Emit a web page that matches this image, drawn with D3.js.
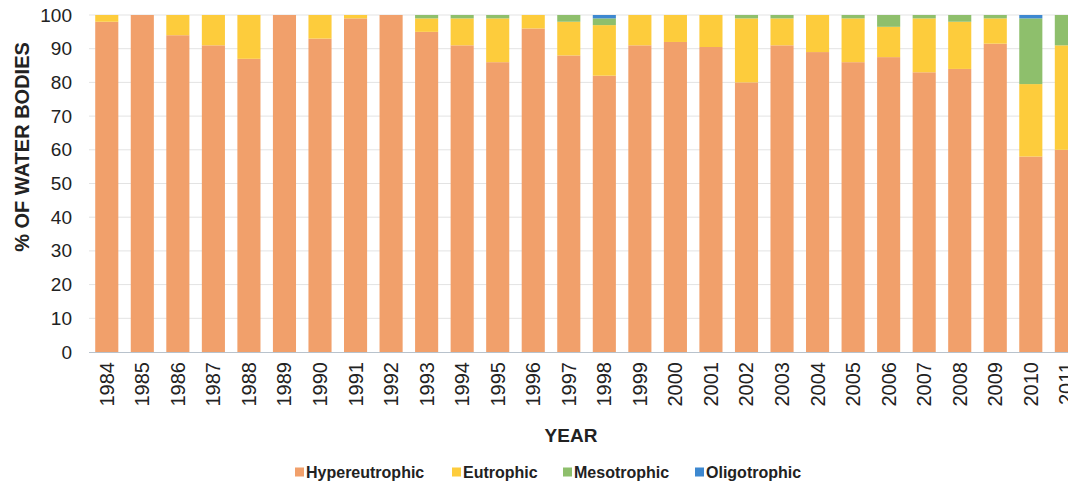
<!DOCTYPE html>
<html><head><meta charset="utf-8">
<script src="https://cdn.jsdelivr.net/npm/d3@7"></script>
<style>body{margin:0;background:#fff;overflow:hidden}svg{display:block;font-family:"Liberation Sans",Arial,sans-serif}</style>
</head><body>
<svg id="c" width="1068" height="483"></svg>
<script>
const years = ["1984","1985","1986","1987","1988","1989","1990","1991","1992","1993","1994","1995","1996","1997","1998","1999","2000","2001","2002","2003","2004","2005","2006","2007","2008","2009","2010","2011"];
const hypereutrophic = [98,100,94,91,87,100,93,99,100,95,91,86,96,88,82,91,92,90.5,80,91,89,86,87.5,83,84,91.5,58,60];
const eutrophic      = [2,0,6,9,13,0,7,1,0,4,8,13,4,10,15,9,8,9.5,19,8,11,13,9,16,14,7.5,21.5,31];
const mesotrophic    = [0,0,0,0,0,0,0,0,0,1,1,1,0,2,2,0,0,0,1,1,0,1,3.5,1,2,1,19.5,9];
const oligotrophic   = [0,0,0,0,0,0,0,0,0,0,0,0,0,0,1,0,0,0,0,0,0,0,0,0,0,0,1,0];
const seriesNames = ["Hypereutrophic","Eutrophic","Mesotrophic","Oligotrophic"];
const seriesColors = ["#F1A06B","#FDCC3C","#8EBF6C","#3D88D0"];
const yTicks = [0,10,20,30,40,50,60,70,80,90,100];

const svg = d3.select("#c");
const m = {left:89, top:15, bottom:352};
const x = d3.scaleBand().domain(years).range([m.left, m.left + 28*35.54]).paddingInner(0.35).paddingOuter(0.175);
const y = d3.scaleLinear().domain([0,100]).range([m.bottom, m.top]);

// gridlines
svg.append("g").selectAll("line").data(yTicks.filter(d=>d>0)).join("line")
  .attr("x1", m.left).attr("x2", 1068).attr("y1", d=>y(d)).attr("y2", d=>y(d))
  .attr("stroke","#e3e3e3").attr("stroke-width",1);

const rows = years.map((yr,i)=>({year:yr, Hypereutrophic:hypereutrophic[i], Eutrophic:eutrophic[i], Mesotrophic:mesotrophic[i], Oligotrophic:oligotrophic[i]}));
const stacked = d3.stack().keys(seriesNames)(rows);
svg.append("g").selectAll("g").data(stacked).join("g")
  .attr("fill",(d,i)=>seriesColors[i])
  .selectAll("rect").data(d=>d).join("rect")
  .attr("x", d=>x(d.data.year)).attr("width", x.bandwidth())
  .attr("y", d=>y(d[1])).attr("height", d=>Math.max(0, y(d[0])-y(d[1])));

// x axis line
svg.append("line").attr("x1",m.left).attr("x2",1068).attr("y1",m.bottom+0.5).attr("y2",m.bottom+0.5).attr("stroke","#b8c2cc");

// y tick labels
const yAxis = svg.append("g").attr("transform",`translate(${m.left},0)`)
  .call(d3.axisLeft(y).tickValues(yTicks).tickSize(0).tickPadding(17));
yAxis.select(".domain").remove();
yAxis.selectAll("text").attr("font-size",19).attr("fill","#222").attr("font-family","Liberation Sans, Arial, sans-serif");

// x tick labels
const xAxis = svg.append("g").attr("transform",`translate(0,${m.bottom})`)
  .call(d3.axisBottom(x).tickSize(0));
xAxis.select(".domain").remove();
xAxis.selectAll("text").attr("font-size",20).attr("fill","#222")
  .attr("font-family","Liberation Sans, Arial, sans-serif")
  .attr("text-anchor","end").attr("dy","0.35em")
  .attr("transform","translate(0,10) rotate(-90)").attr("x",0).attr("y",0);

// titles
svg.append("text").attr("x",571).attr("y",442).attr("text-anchor","middle")
  .attr("font-weight","bold").attr("font-size",19).attr("fill","#222").text("YEAR");
svg.append("text").attr("transform","translate(29,147) rotate(-90)").attr("text-anchor","middle")
  .attr("font-weight","bold").attr("font-size",20).attr("fill","#222").text("% OF WATER BODIES");

// legend
const legX = [295, 452, 563, 695];
const lg = svg.append("g").selectAll("g").data(seriesNames).join("g")
  .attr("transform",(d,i)=>`translate(${legX[i]},472)`);
lg.append("rect").attr("x",0).attr("y",-4.5).attr("width",9).attr("height",9).attr("fill",(d,i)=>seriesColors[i]);
lg.append("text").attr("x",11).attr("y",0).attr("dy","0.35em").attr("font-size",16).attr("font-weight","bold").attr("fill","#222").text(d=>d);
</script>
</body></html>
